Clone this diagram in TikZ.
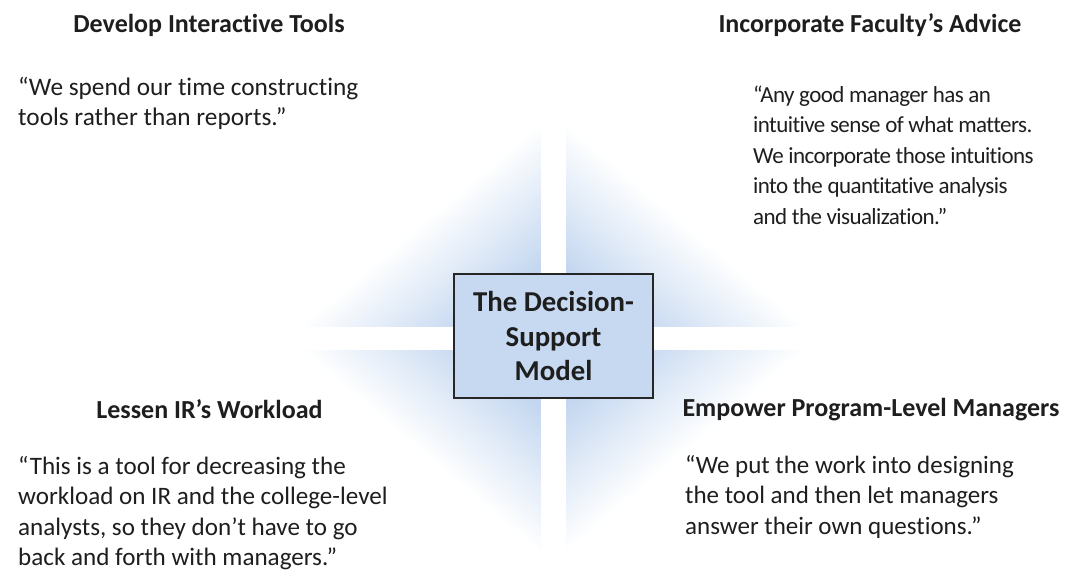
\documentclass[tikz,border=0pt]{standalone}
\usepackage{fontspec}
\setmainfont{Carlito}[Ligatures=NoCommon]
\usetikzlibrary{calc}
\definecolor{qblue}{RGB}{196,215,240}
\definecolor{boxfill}{RGB}{198,217,241}
\definecolor{txt}{RGB}{30,30,30}
\newcommand{\qshade}[3]{%
  \foreach \i in {80,...,1}{%
    \pgfmathsetmacro\qt{\i/80}%
    \pgfmathsetmacro\qp{min(100,100*(1-(\i-0.5)/80)/0.72)}%
    \fill[qblue!\qp!white] (#1) -- ($(#1)!\qt!(#2)$) -- ($(#1)!\qt!(#3)$) -- cycle;
  }}
\tikzset{
  heading/.style={anchor=base, inner sep=0pt, text=txt, font=\bfseries\fontsize{26}{30}\selectfont},
  quoteblock/.style={anchor=base west, inner sep=0pt, text=txt},
  centerbox/.style={draw=black!85, line width=1.4pt, fill=boxfill, minimum width=199pt, minimum height=124pt,
    align=center, text=txt, font=\bfseries\fontsize{28.8}{34.5}\selectfont, inner sep=0pt}
}
\newcommand{\qtext}[3]{\parbox[t]{#1}{\raggedright\fontsize{#2}{30.5}\selectfont #3}}
\begin{document}
\begin{tikzpicture}[x=1pt,y=-1pt]
\useasboundingbox (0,0) rectangle (1083,576);
\fill[white] (0,0) rectangle (1083,576);
% quadrant shading triangles
\coordinate (tlc) at (540,326); \coordinate (tla) at (540,124); \coordinate (tlb) at (302,326);
\coordinate (trc) at (566,326); \coordinate (tra) at (566,124); \coordinate (trb) at (804,326);
\coordinate (blc) at (540,350); \coordinate (bla) at (540,552); \coordinate (blb) at (302,350);
\coordinate (brc) at (566,350); \coordinate (bra) at (566,552); \coordinate (brb) at (804,350);
\qshade{tlc}{tla}{tlb}
\qshade{trc}{tra}{trb}
\qshade{blc}{bla}{blb}
\qshade{brc}{bra}{brb}
% centre box
\node[centerbox] (model) at (553.5,336) {The Decision-\\Support\\Model};
% headings
\node[heading] (h1) at (209,32) {Develop Interactive Tools};
\node[heading] (h2) at (870,32) {Incorporate Faculty’s Advice};
\node[heading] (h3) at (209.5,418) {Lessen IR’s Workload};
\node[heading] (h4) at (871,416) {Empower Program-Level Managers};
% quotes
\node[quoteblock] (q1) at (18,95) {\qtext{450pt}{25.3}{“We spend our time constructing\\tools rather than reports.”}};
\node[quoteblock] (q2) at (753,102) {\qtext{450pt}{23}{\addfontfeature{LetterSpace=-2.5}“Any good manager has an\\intuitive sense of what matters.\\We incorporate those intuitions\\into the quantitative analysis\\and the visualization.”}};
\node[quoteblock] (q3) at (18,474) {\qtext{450pt}{25.1}{“This is a tool for decreasing the\\workload on IR and the college-level\\analysts, so they don’t have to go\\back and forth with managers.”}};
\node[quoteblock] (q4) at (685,473) {\qtext{450pt}{25}{“We put the work into designing\\the tool and then let managers\\answer their own questions.”}};
\end{tikzpicture}
\end{document}
